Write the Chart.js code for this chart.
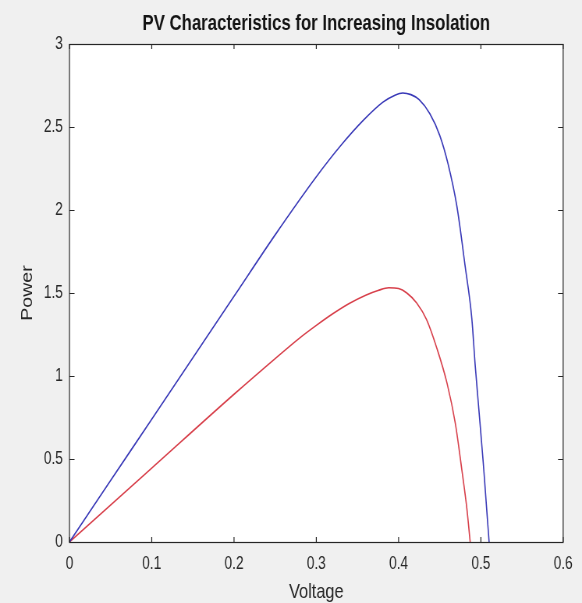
<!DOCTYPE html>
<html>
<head>
<meta charset="utf-8">
<style>
  html, body { margin: 0; padding: 0; background: #f0f0f0; }
  #wrap { width: 582px; height: 603px; overflow: hidden; }
</style>
<script src="https://cdn.jsdelivr.net/npm/chart.js@4.4.1/dist/chart.umd.min.js"></script>
</head>
<body>
<!-- the reference figure is horizontally squeezed, so the canvas is drawn wider and shown at 582px -->
<div id="wrap"><canvas id="pv" width="746" height="603" style="width:582px;height:603px;display:block"></canvas></div>
<script>
// values
const highVoltage = [0, 0.05, 0.1, 0.15, 0.2, 0.25, 0.3, 0.33, 0.357, 0.381, 0.395, 0.405, 0.415, 0.425, 0.438, 0.45, 0.46, 0.471, 0.481, 0.489, 0.493, 0.497, 0.503, 0.507, 0.51];
const highPower   = [0, 0.37, 0.74, 1.11, 1.48, 1.85, 2.2, 2.39, 2.54, 2.65, 2.69, 2.705, 2.695, 2.665, 2.58, 2.45, 2.28, 2.018, 1.657, 1.346, 1.07, 0.83, 0.47, 0.2, 0];

const lowVoltage = [0, 0.1, 0.2, 0.25, 0.28, 0.3, 0.32, 0.34, 0.36, 0.375, 0.388, 0.4, 0.41, 0.422, 0.434, 0.446, 0.459, 0.469, 0.477, 0.483, 0.487];
const lowPower   = [0, 0.445, 0.89, 1.105, 1.23, 1.305, 1.375, 1.437, 1.487, 1.515, 1.532, 1.527, 1.5, 1.44, 1.34, 1.175, 0.954, 0.713, 0.43, 0.2, 0];

const xTicks = [0, 0.1, 0.2, 0.3, 0.4, 0.5, 0.6];
const yTicks = [0, 0.5, 1, 1.5, 2, 2.5, 3];

const titleText = 'PV Characteristics for Increasing Insolation';

const sans = '"Liberation Sans", Arial, Helvetica, sans-serif';
const axisInk = '#262626';

const toPoints = (xs, ys) => xs.map((x, i) => ({ x: x, y: ys[i] }));

// MATLAB-ish axes: grey figure, white box, inward ticks on all four sides, title over the box
const matlabAxes = {
    id: 'matlabAxes',
    beforeDraw(chart) {
        const { ctx, chartArea: a } = chart;
        ctx.save();
        ctx.fillStyle = '#f0f0f0';
        ctx.fillRect(0, 0, chart.width, chart.height);
        ctx.fillStyle = '#ffffff';
        ctx.fillRect(a.left, a.top, a.right - a.left, a.bottom - a.top);
        ctx.restore();
    },
    afterDraw(chart) {
        const { ctx, chartArea: a, scales } = chart;
        ctx.save();
        ctx.strokeStyle = axisInk;
        ctx.lineWidth = 1.2;
        ctx.beginPath();
        xTicks.forEach(v => {
            const px = scales.x.getPixelForValue(v);
            ctx.moveTo(px, a.bottom); ctx.lineTo(px, a.bottom - 5);
            ctx.moveTo(px, a.top); ctx.lineTo(px, a.top + 5);
        });
        yTicks.forEach(v => {
            const py = Math.round(scales.y.getPixelForValue(v)) + 0.5;
            ctx.moveTo(a.left, py); ctx.lineTo(a.left + 6.5, py);
            ctx.moveTo(a.right, py); ctx.lineTo(a.right - 6.5, py);
        });
        ctx.stroke();
        ctx.strokeRect(a.left, Math.round(a.top) + 0.5, a.right - a.left, Math.round(a.bottom - a.top));

        ctx.fillStyle = '#141414';
        ctx.font = 'bold 21.5px ' + sans;
        ctx.textAlign = 'center';
        ctx.textBaseline = 'middle';
        ctx.fillText(titleText, (a.left + a.right) / 2, 24);
        ctx.restore();
    }
};

new Chart(document.getElementById('pv'), {
    type: 'line',
    data: {
        datasets: [
            {
                label: 'High insolation',
                data: toPoints(highVoltage, highPower),
                borderColor: '#3a3ab8',
                backgroundColor: 'transparent',
                borderWidth: 1.6,
                pointRadius: 0,
                cubicInterpolationMode: 'monotone'
            },
            {
                label: 'Low insolation',
                data: toPoints(lowVoltage, lowPower),
                borderColor: '#d8414c',
                backgroundColor: 'transparent',
                borderWidth: 1.6,
                pointRadius: 0,
                cubicInterpolationMode: 'monotone'
            }
        ]
    },
    options: {
        responsive: false,
        animation: false,
        layout: { padding: { left: 0, right: 24, top: 44, bottom: 0 } },
        plugins: {
            legend: { display: false },
            tooltip: { enabled: false },
            title: { display: false }
        },
        scales: {
            x: {
                type: 'linear',
                min: 0,
                max: 0.6,
                grid: { display: false, drawTicks: false },
                border: { display: false },
                afterBuildTicks: axis => { axis.ticks = xTicks.map(v => ({ value: v })); },
                afterFit: axis => { axis.height = 61; },
                ticks: {
                    color: axisInk,
                    font: { family: sans, size: 17.5 },
                    padding: 12,
                    maxRotation: 0,
                    callback: v => String(v)
                },
                title: {
                    display: true,
                    text: 'Voltage',
                    color: axisInk,
                    font: { family: sans, size: 21 },
                    padding: { top: 0, bottom: -2 }
                }
            },
            y: {
                type: 'linear',
                min: 0,
                max: 3,
                grid: { display: false, drawTicks: false },
                border: { display: false },
                afterBuildTicks: axis => { axis.ticks = yTicks.map(v => ({ value: v })); },
                afterFit: axis => { axis.width = 89; },
                ticks: {
                    color: axisInk,
                    font: { family: sans, size: 17.5 },
                    padding: 8.5,
                    callback: v => String(v)
                },
                title: {
                    display: true,
                    text: 'Power',
                    color: axisInk,
                    font: { family: sans, size: 19.5 },
                    padding: { top: 24, bottom: 0 }
                }
            }
        }
    },
    plugins: [matlabAxes]
});
</script>
</body>
</html>
